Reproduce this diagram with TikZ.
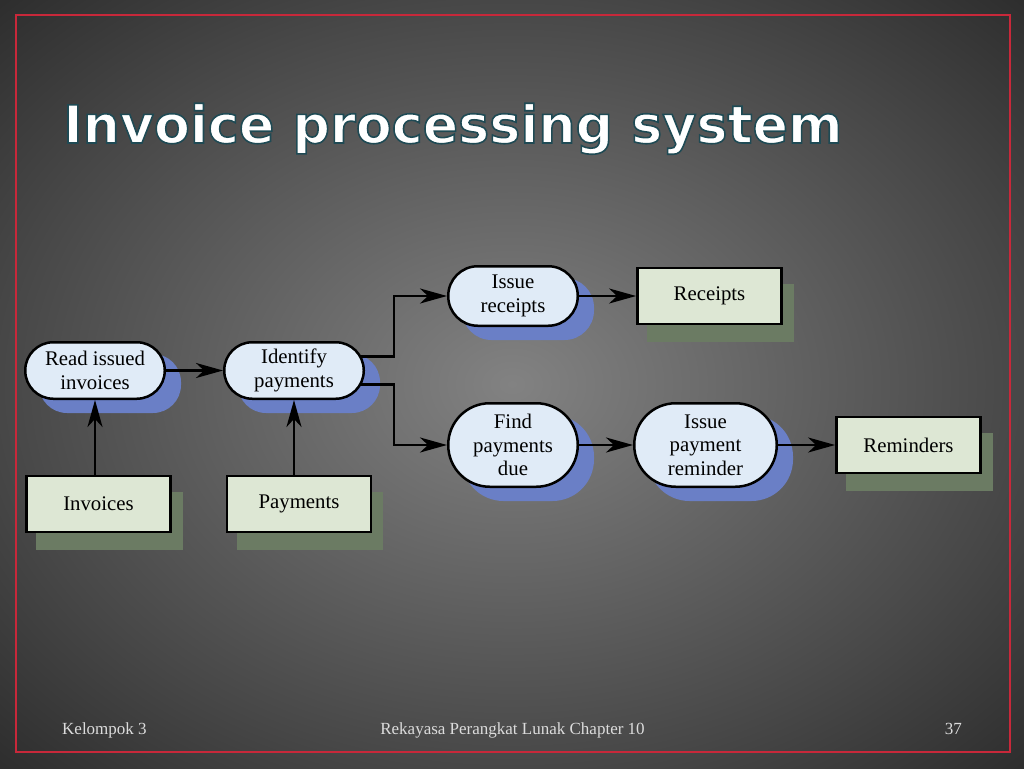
\documentclass[tikz,border=0pt]{standalone}
\usepackage{fontspec}
\setmainfont{Liberation Serif}
\newfontfamily\titlefont{DejaVu Sans}
\usetikzlibrary{arrows.meta,calc}
\definecolor{bgcenter}{HTML}{828282}
\definecolor{bgedge}{HTML}{474747}
\definecolor{bgcorner}{HTML}{2C2C2C}
\definecolor{slidered}{HTML}{C8283A}
\definecolor{procfill}{HTML}{E0EBF7}
\definecolor{procshadow}{HTML}{6A7FC6}
\definecolor{storefill}{HTML}{DDE7D4}
\definecolor{storeshadow}{HTML}{6B7B63}
\definecolor{footgray}{HTML}{DCDCDC}
\pgfdeclareradialshading{slidebg}{\pgfpoint{0bp}{0bp}}{color(0bp)=(bgcenter); color(25bp)=(bgedge); color(36bp)=(bgcorner); color(50bp)=(bgcorner)}
\pgfdeclarelayer{bg}
\pgfdeclarelayer{shadow}
\pgfdeclarelayer{lines}
\pgfsetlayers{bg,shadow,lines,main}
\begin{document}
\begin{tikzpicture}[x=1pt,y=-1pt,
  nodetext/.style={font=\fontsize{20.8}{23.5}\selectfont, align=center, inner sep=0pt, text=black},
  proc/.style={nodetext, draw=black, line width=2.5pt, fill=procfill, rectangle},
  proctwo/.style={proc, minimum height=56.5pt, rounded corners=28pt},
  procthree/.style={proc, minimum height=83.5pt, rounded corners=41.5pt},
  store/.style={nodetext, draw=black, line width=2.8pt, fill=storefill, rectangle, minimum width=144pt, minimum height=56pt},
  arr/.style={line width=2.5pt, draw=black, -{Stealth[length=27pt,width=15pt,inset=8pt]}},
  footer/.style={font=\fontsize{17}{20}\selectfont, text=footgray, inner sep=0pt}
]
\begin{pgfonlayer}{bg}
\shade[shading=slidebg] (0,0) rectangle (1024,768);
\draw[slidered, line width=2.8pt] (16,15) rectangle (1010,752);
\end{pgfonlayer}
\useasboundingbox (0,0) rectangle (1024,768);

% title
\node[anchor=base west, inner sep=0pt, text=white, font=\titlefont\bfseries\fontsize{52.3}{62}\selectfont] (title) at (63,143)
  {\special{pdf:literal direct 2 Tr 1.6 w 0.12 0.29 0.33 RG}Invoice processing system\special{pdf:literal direct 0 Tr}};

% processes
\node[proctwo, minimum width=139.5pt] (ri) at (95,370.5) {Read issued\\invoices};
\node[proctwo, minimum width=139.5pt] (id) at (294,370.5) {Identify\\payments};
\node[proc, minimum width=129.5pt, minimum height=59.5pt, rounded corners=29.5pt] (ir) at (513,296) {Issue\\receipts};
\node[procthree, minimum width=129.5pt] (fp) at (513,445) {Find\\payments\\due};
\node[procthree, minimum width=142.5pt] (ipr) at (705.5,445) {Issue\\payment\\reminder};

% stores
\node[store] (inv) at (98.5,504) {Invoices};
\node[store] (pay) at (299,504) {Payments};
\node[store] (rec) at (709.5,296) {Receipts};
\node[store] (rem) at (908.5,445) {Reminders};

% shadows
\begin{pgfonlayer}{shadow}
\foreach \n/\r in {ri/28, id/28, ir/29.5, fp/41.5, ipr/41.5}
  \fill[procshadow, rounded corners=\r pt] ($(\n.north west)+(15,13)$) rectangle ($(\n.south east)+(15,13)$);
\foreach \n in {inv, pay, rec, rem}
  \fill[storeshadow] ($(\n.north west)+(11,17)$) rectangle ($(\n.south east)+(11,17)$);
\end{pgfonlayer}

% connectors
\begin{pgfonlayer}{lines}
\draw[arr] (inv.north -| ri.south) -- (ri.south);
\draw[arr] (pay.north -| id.south) -- (id.south);
\draw[arr] (ri) -- (id);
\draw[arr] ([yshift=14pt]id.center) -- ([yshift=14pt,xshift=29pt]id.east) |- (ir.west);
\draw[arr] ([yshift=-14pt]id.center) -- ([yshift=-14pt,xshift=29pt]id.east) |- (fp.west);
\draw[arr] (ir) -- (rec);
\draw[arr] (fp) -- (ipr);
\draw[arr] (ipr) -- (rem);
\end{pgfonlayer}

% footer
\node[footer, anchor=base west] (f1) at (62,734) {Kelompok 3};
\node[footer, anchor=base] (f2) at (512.5,734) {Rekayasa Perangkat Lunak Chapter 10};
\node[footer, anchor=base east] (f3) at (962,734) {37};
\end{tikzpicture}
\end{document}
